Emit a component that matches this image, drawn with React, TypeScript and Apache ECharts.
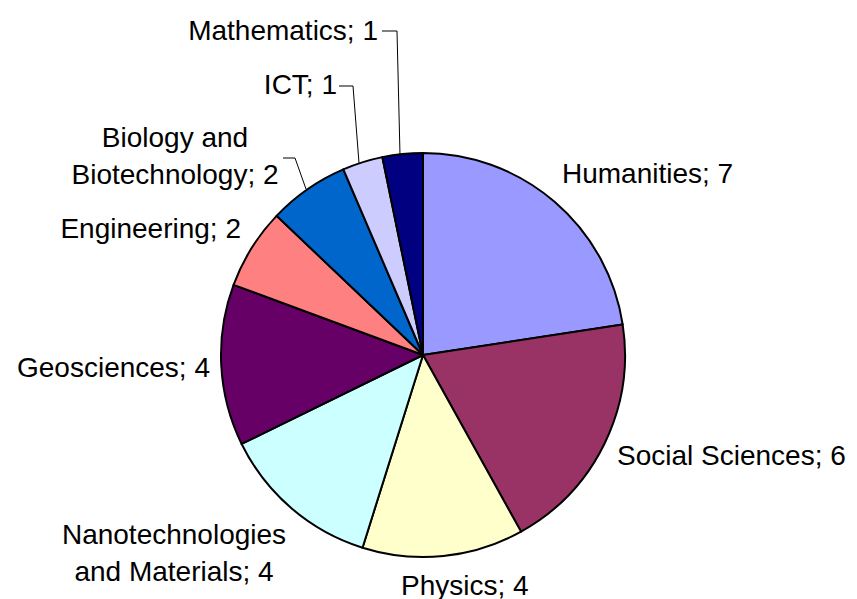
import React, { useEffect, useRef } from "react";
import * as echarts from "echarts";

const categories = [
  "Humanities",
  "Social Sciences",
  "Physics",
  "Nanotechnologies\nand Materials",
  "Geosciences",
  "Engineering",
  "Biology and\nBiotechnology",
  "ICT",
  "Mathematics",
];
const values = [7, 6, 4, 4, 4, 2, 2, 1, 1];
const colors = [
  "#9999FF",
  "#993366",
  "#FFFFCC",
  "#CCFFFF",
  "#660066",
  "#FF8080",
  "#0066CC",
  "#CCCCFF",
  "#000080",
];

// label placement: [x, y, align]
const labelPos: [number, number, string][] = [
  [562, 173, "left"],
  [617, 455, "left"],
  [401, 585, "left"],
  [174, 553, "center"],
  [210, 367, "right"],
  [241, 228, "right"],
  [175, 156, "center"],
  [337, 84, "right"],
  [378, 30, "right"],
];
const leaderLines: (number[][] | null)[] = [
  null,
  null,
  null,
  null,
  null,
  null,
  [[306, 189], [295, 158], [283, 158]],
  [[359, 163], [353, 86], [339, 86]],
  [[400, 155], [397, 31], [382, 31]],
];

export default function App() {
  const ref = useRef<HTMLDivElement>(null);
  useEffect(() => {
    if (!ref.current) return;
    const chart = echarts.init(ref.current, undefined, { renderer: "svg" });
    chart.setOption({
      animation: false,
      backgroundColor: "#ffffff",
      series: [
        {
          type: "pie",
          center: [423, 355],
          radius: 202,
          startAngle: 90,
          clockwise: true,
          avoidLabelOverlap: false,
          itemStyle: { borderColor: "#000000", borderWidth: 2 },
          label: {
            show: true,
            position: "outside",
            formatter: "{b}; {c}",
            fontFamily: "Liberation Sans, Arial, sans-serif",
            fontSize: 28,
            lineHeight: 37,
            color: "#000000",
          },
          labelLine: {
            show: true,
            lineStyle: { color: "#000000", width: 1 },
          },
          labelLayout: (params: any) => {
            const i = params.dataIndex;
            const p = labelPos[i];
            const out: any = {
              x: p[0],
              y: p[1],
              align: p[2],
              verticalAlign: "middle",
              hideOverlap: false,
            };
            if (leaderLines[i]) out.labelLinePoints = leaderLines[i];
            return out;
          },
          data: categories.map((name, i) => ({
            name,
            value: values[i],
            itemStyle: { color: colors[i] },
            labelLine: { show: leaderLines[i] !== null },
          })),
        },
      ],
    });
    return () => chart.dispose();
  }, []);
  return (
    <div
      ref={ref}
      style={{ position: "fixed", left: 0, top: 0, width: 857, height: 599 }}
    />
  );
}
